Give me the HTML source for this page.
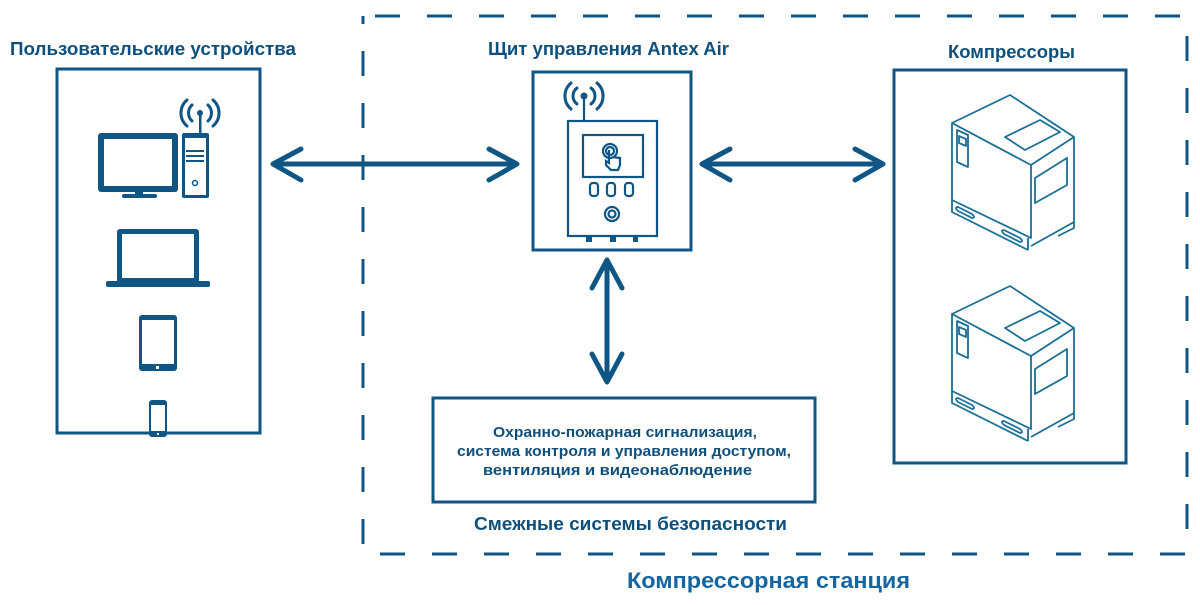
<!DOCTYPE html>
<html><head><meta charset="utf-8"><style>
html,body{margin:0;padding:0;background:#fff;}
svg{display:block}
text{font-family:"Liberation Sans",sans-serif;font-weight:bold;fill:#0f4f7c}
</style></head><body>
<svg width="1200" height="605" viewBox="0 0 1200 605" xmlns="http://www.w3.org/2000/svg">
<g fill="none" stroke="#0f5685">
<rect x="363" y="16" width="824" height="538" stroke-width="3" stroke-dasharray="25 27" stroke-dashoffset="-12"/>
<rect x="57" y="69" width="203" height="364" stroke-width="3"/>
<rect x="533" y="72" width="158" height="178" stroke-width="3"/>
<rect x="894" y="70" width="232" height="393" stroke-width="3"/>
<rect x="433" y="398" width="382" height="104" stroke-width="3"/>
<g stroke-width="5" stroke-linecap="round" stroke-linejoin="round">
<path d="M273 164H517M301 149L273 164L301 180M489 149L517 164L489 180"/>
<path d="M702 164H883M730 149L702 164L730 180M855 149L883 164L855 180"/>
<path d="M607 260V382M592 288L607 260L622 288M592 354L607 382L622 354"/>
</g>
</g>
<!-- devices -->
<g fill="#0f5685">
<rect x="98" y="133" width="80" height="59" rx="3"/>
<rect x="104" y="139" width="68" height="47" fill="#fff"/>
<rect x="135" y="191" width="8" height="4"/>
<rect x="122" y="194" width="35" height="4" rx="2"/>
<rect x="182" y="133" width="27" height="65" rx="2"/>
<rect x="185" y="138" width="21" height="57" fill="#fff"/>
<rect x="186" y="150" width="18" height="2"/><rect x="186" y="155" width="18" height="2"/><rect x="186" y="160" width="18" height="2"/>
<circle cx="195" cy="183" r="2.5" fill="none" stroke="#0f5685" stroke-width="1.5"/>
<rect x="199" y="113" width="2.5" height="22"/>
<circle cx="200" cy="113" r="3"/>
<rect x="117" y="229" width="82" height="54" rx="3"/>
<rect x="122" y="234" width="72" height="44" fill="#fff"/>
<rect x="106" y="281" width="104" height="6" rx="2"/>
<rect x="139" y="315" width="38" height="56" rx="3"/>
<rect x="142" y="320" width="32" height="44" fill="#fff"/>
<rect x="156" y="366" width="3" height="3" fill="#fff"/>
<rect x="149" y="400" width="18" height="37" rx="3"/>
<rect x="151" y="405" width="14" height="26" fill="#fff"/>
<rect x="157" y="433" width="2" height="2" fill="#fff"/>
</g>
<g fill="none" stroke="#0f5685" stroke-width="3" stroke-linecap="round">
<path d="M192 105A11 11 0 0 0 192 121M208 105A11 11 0 0 1 208 121M187 100A17 17 0 0 0 187 126M213 100A17 17 0 0 1 213 126"/>
</g>
<!-- panel -->
<g fill="none" stroke="#0f5685" stroke-width="2.2">
<rect x="568" y="121" width="89" height="115"/>
<rect x="583" y="135" width="60" height="42"/>
<path d="M584 97V121"/>
<circle cx="612" cy="214" r="7"/><circle cx="612" cy="214" r="3.5"/>
<rect x="590" y="183" width="8" height="13" rx="3"/>
<rect x="607" y="183" width="8" height="13" rx="3"/>
<rect x="625" y="183" width="8" height="13" rx="3"/>
<circle cx="610" cy="151" r="7"/><circle cx="610" cy="151" r="4"/>
<path d="M609 150v13l-3 -2v4l5 5h7l2 -5v-7l-7 -1"/>
<g stroke-width="3" stroke-linecap="round"><path d="M577 88A10 10 0 0 0 577 104M591 88A10 10 0 0 1 591 104M571 83A17 17 0 0 0 571 109M597 83A17 17 0 0 1 597 109"/></g>
</g>
<circle cx="584" cy="96" r="3.5" fill="#0f5685"/>
<g fill="#0f5685"><rect x="586" y="236" width="6" height="6"/><rect x="610" y="236" width="6" height="6"/><rect x="633" y="236" width="5" height="6"/></g>
<!-- compressors -->
<defs>
<g id="comp" fill="none" stroke="#1a6f95" stroke-width="1.8" stroke-linejoin="round">
<path d="M952 123L1010 95L1074 137L1031 165Z"/>
<path d="M952 123V200L1031 238V165M1074 137V222L1031 246"/>
<path d="M952 200V212L1028 250M1028 238V250M1074 222V228L1058 236"/>
<path d="M1005 137L1040 120L1060 132L1025 150Z"/>
<path d="M1035 178L1067 158V185L1035 203Z"/>
<path d="M957 130L968 135V167L957 162Z"/>
<path d="M959 136L966 139V146L959 143Z"/>
<path d="M958 207L972 214Q976 218 972 218L958 211Q954 207 958 207Z"/>
<path d="M1004 230L1020 238Q1024 242 1020 242L1004 234Q1000 230 1004 230Z"/>
</g>
</defs>
<use href="#comp"/>
<use href="#comp" y="191"/>
<g lengthAdjust="spacingAndGlyphs">
<text x="10" y="55" font-size="18" textLength="286" lengthAdjust="spacingAndGlyphs">Пользовательские устройства</text>
<text x="488" y="55" font-size="18" textLength="241" lengthAdjust="spacingAndGlyphs">Щит управления Antex Air</text>
<text x="948" y="58" font-size="18" textLength="127" lengthAdjust="spacingAndGlyphs">Компрессоры</text>
<text x="493" y="437" font-size="15" textLength="264" lengthAdjust="spacingAndGlyphs">Охранно-пожарная сигнализация,</text>
<text x="457" y="456" font-size="15" textLength="334" lengthAdjust="spacingAndGlyphs">система контроля и управления доступом,</text>
<text x="483" y="475" font-size="15" textLength="269" lengthAdjust="spacingAndGlyphs">вентиляция и видеонаблюдение</text>
<text x="474" y="530" font-size="18" textLength="313" lengthAdjust="spacingAndGlyphs">Смежные системы безопасности</text>
<text x="627" y="588" font-size="22" textLength="283" lengthAdjust="spacingAndGlyphs" style="fill:#1565a0">Компрессорная станция</text>
</g>
</svg>
</body></html>
